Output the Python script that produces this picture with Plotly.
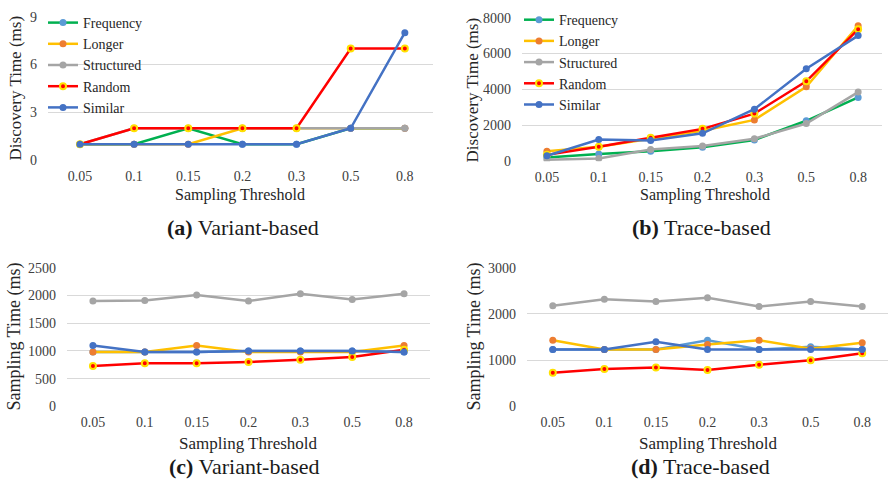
import plotly.graph_objects as go

thresholds = ["0.05", "0.1", "0.15", "0.2", "0.3", "0.5", "0.8"]
series_names = ["Frequency", "Longer", "Structured", "Random", "Similar"]

# (a) Variant-based discovery time (ms)
disc_variant = {
    "Frequency": [1, 1, 2, 1, 1, 2, 2],
    "Longer": [1, 1, 1, 2, 2, 2, 2],
    "Structured": [1, 2, 2, 2, 2, 2, 2],
    "Random": [1, 2, 2, 2, 2, 7, 7],
    "Similar": [1, 1, 1, 1, 1, 2, 8],
}
# (b) Trace-based discovery time (ms)
disc_trace = {
    "Frequency": [200, 400, 550, 780, 1180, 2250, 3550],
    "Longer": [550, 800, 1250, 1700, 2300, 4150, 7550],
    "Structured": [80, 150, 650, 850, 1250, 2100, 3850],
    "Random": [350, 800, 1300, 1800, 2650, 4450, 7350],
    "Similar": [300, 1200, 1150, 1550, 2900, 5150, 7000],
}
# (c) Variant-based sampling time (ms)
samp_variant = {
    "Frequency": [980, 980, 980, 1000, 1000, 1000, 980],
    "Longer": [980, 980, 1100, 980, 980, 980, 1100],
    "Structured": [1900, 1910, 2010, 1900, 2030, 1930, 2030],
    "Random": [730, 780, 780, 800, 840, 890, 1020],
    "Similar": [1100, 980, 980, 1000, 1000, 1000, 980],
}
# (d) Trace-based sampling time (ms)
samp_trace = {
    "Frequency": [1230, 1230, 1230, 1430, 1230, 1290, 1230],
    "Longer": [1430, 1230, 1230, 1340, 1430, 1250, 1380],
    "Structured": [2180, 2320, 2270, 2350, 2160, 2270, 2160],
    "Random": [730, 810, 840, 790, 900, 1000, 1150],
    "Similar": [1230, 1230, 1400, 1230, 1230, 1230, 1230],
}

line_colors_top = {"Frequency": "#00B050", "Longer": "#FFC000", "Structured": "#A5A5A5",
                   "Random": "#FF0000", "Similar": "#4472C4"}
line_colors_bot = {"Frequency": "#5B9BD5", "Longer": "#FFC000", "Structured": "#A5A5A5",
                   "Random": "#FF0000", "Similar": "#4472C4"}
marker_colors = {"Frequency": "#5B9BD5", "Longer": "#ED7D31", "Structured": "#A5A5A5",
                 "Random": "#FF0000", "Similar": "#4472C4"}

W, H = 889, 491
FONT = "Liberation Serif, Times New Roman, serif"

def px_x(p):
    return p / W

def px_y(p):
    return 1 - p / H

fig = go.Figure()

panels = [
    (disc_variant, "x", "y", line_colors_top, "legend"),
    (disc_trace, "x2", "y2", line_colors_top, "legend2"),
    (samp_variant, "x3", "y3", line_colors_bot, None),
    (samp_trace, "x4", "y4", line_colors_bot, None),
]

for data, xa, ya, lc, leg in panels:
    for name in series_names:
        mk = dict(color=marker_colors[name], size=7)
        if name == "Random":
            mk = dict(color="#FF0000", size=6, line=dict(color="#FFE100", width=2))
        fig.add_trace(go.Scatter(
            x=thresholds, y=data[name], name=name, mode="lines+markers",
            line=dict(color=lc[name], width=2.5), marker=mk,
            xaxis=xa, yaxis=ya,
            showlegend=leg is not None, legend=leg if leg else "legend",
        ))

tickfont = dict(family=FONT, size=14, color="#404040")
grid = "#D9D9D9"

def xaxis(domain, rng):
    return dict(domain=domain, type="category", range=rng, showgrid=False,
                showline=False, zeroline=False, tickfont=tickfont, ticks="",
                ticklabelstandoff=6)

def yaxis(domain, rng, dtick):
    return dict(domain=domain, range=rng, dtick=dtick, showgrid=True, gridcolor=grid,
                gridwidth=1, zeroline=False, showline=False, tickfont=tickfont,
                ticks="", ticklabelstandoff=10)

legend_font = dict(family=FONT, size=14, color="#262626")

fig.update_layout(
    width=W, height=H, margin=dict(l=0, r=0, t=0, b=0),
    paper_bgcolor="white", plot_bgcolor="white",
    xaxis=dict(**xaxis([px_x(48), px_x(433)], [-0.59, 6.52]), anchor="y"),
    yaxis=dict(**yaxis([px_y(158), px_y(10)], [0, 9], 3), anchor="x"),
    xaxis2=dict(**xaxis([px_x(522), px_x(882)], [-0.48, 6.46]), anchor="y2"),
    yaxis2=dict(**yaxis([px_y(159), px_y(11)], [0, 8000], 2000), anchor="x2"),
    xaxis3=dict(**xaxis([px_x(67), px_x(430)], [-0.5, 6.5]), anchor="y3"),
    yaxis3=dict(**yaxis([px_y(412), px_y(269)], [0, 2500], 500), anchor="x3"),
    xaxis4=dict(**xaxis([px_x(527), px_x(888)], [-0.5, 6.5]), anchor="y4"),
    yaxis4=dict(**yaxis([px_y(412), px_y(269)], [0, 3000], 1000), anchor="x4"),
    legend=dict(x=px_x(43), y=px_y(0), xanchor="left", yanchor="top",
                font=legend_font, bgcolor="rgba(0,0,0,0)", itemwidth=30, tracegroupgap=0),
    legend2=dict(x=px_x(519), y=px_y(-3), xanchor="left", yanchor="top",
                 font=legend_font, bgcolor="rgba(0,0,0,0)", itemwidth=30, tracegroupgap=0),
    showlegend=True,
)

annotations = [
    ("Sampling Threshold", 240, 194, 16, 0),
    ("Sampling Threshold", 705, 194, 16, 0),
    ("Sampling Threshold", 248, 450, 17, 0),
    ("Sampling Threshold", 708, 450, 17, 0),
    ("Discovery Time (ms)", 15, 84, 17, -90),
    ("Discovery Time (ms)", 472, 85, 17, -90),
    ("Sampling Time (ms)", 15, 340, 18, -90),
    ("Sampling Time (ms)", 475, 340, 18, -90),
    ("<b>(a)</b> Variant-based", 243, 227, 22, 0),
    ("<b>(b)</b> Trace-based", 701, 227, 22, 0),
    ("<b>(c)</b> Variant-based", 244, 474, 22, 0),
    ("<b>(d)</b> Trace-based", 700, 474, 22, 0),
]
for text, x, y, size, ang in annotations:
    fig.add_annotation(text=text, x=px_x(x), y=px_y(y), xref="paper", yref="paper",
                       showarrow=False, textangle=ang, xanchor="center", yanchor="middle",
                       font=dict(family=FONT, size=size, color="#1a1a1a" if size > 20 else "#262626"))

fig.write_html("out.html")
